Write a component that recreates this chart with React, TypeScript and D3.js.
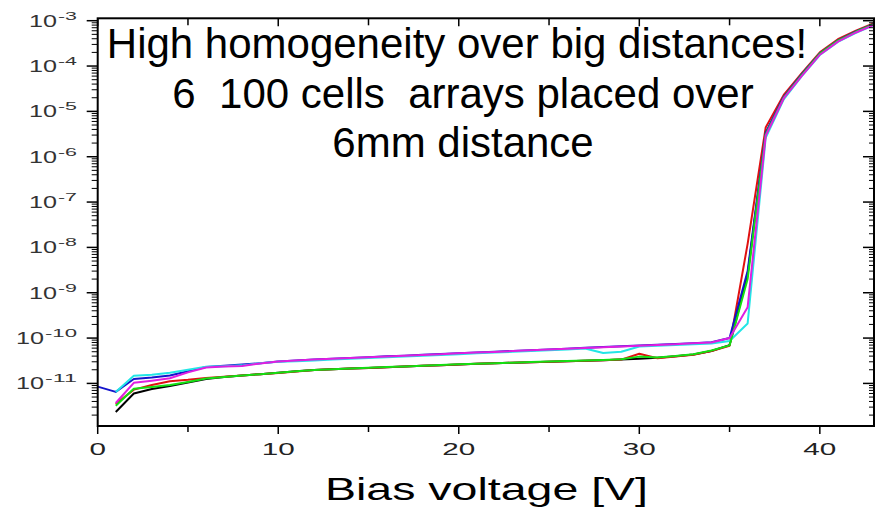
import React from "react";
import * as d3 from "d3";

const W = 880;
const H = 509;

const voltages = [0,1,2,3,4,5,6,7,8,9,10,11,12,13,14,15,16,17,18,19,20,21,22,23,24,25,26,27,28,29,30,31,32,33,34,35,36,37,38,39,40,41,42,43];

const blackSeries = [null,2.35e-12,6.0e-12,7.5e-12,8.8e-12,1.05e-11,1.25e-11,1.38e-11,1.5e-11,1.6e-11,1.72e-11,1.85e-11,1.98e-11,2.05e-11,2.12e-11,2.2e-11,2.28e-11,2.36e-11,2.45e-11,2.53e-11,2.62e-11,2.7e-11,2.78e-11,2.85e-11,2.93e-11,3.0e-11,3.08e-11,3.17e-11,3.26e-11,3.36e-11,3.5e-11,3.7e-11,3.95e-11,4.35e-11,5.2e-11,7.0e-11,2.5e-9,3.2e-6,2.0e-5,6.5e-5,1.88e-4,3.65e-4,5.7e-4,8.4e-4];
const redSeries = [null,3.5e-12,7.3e-12,9.2e-12,1.12e-11,1.2e-11,1.32e-11,1.4e-11,1.5e-11,1.6e-11,1.7e-11,1.84e-11,1.97e-11,2.06e-11,2.13e-11,2.2e-11,2.28e-11,2.37e-11,2.44e-11,2.52e-11,2.6e-11,2.72e-11,2.8e-11,2.86e-11,2.92e-11,3.0e-11,3.1e-11,3.15e-11,3.25e-11,3.35e-11,4.5e-11,3.6e-11,3.9e-11,4.3e-11,5.2e-11,6.8e-11,1.2e-8,4.4e-6,2.3e-5,7.0e-5,2.0e-4,3.9e-4,6.0e-4,8.8e-4];
const cyanSeries = [null,6.5e-12,1.48e-11,1.55e-11,1.72e-11,2.0e-11,2.32e-11,2.4e-11,2.5e-11,2.8e-11,3.0e-11,3.1e-11,3.22e-11,3.35e-11,3.48e-11,3.62e-11,3.78e-11,3.92e-11,4.08e-11,4.25e-11,4.42e-11,4.6e-11,4.78e-11,4.98e-11,5.18e-11,5.4e-11,5.6e-11,5.9e-11,4.7e-11,5.0e-11,6.5e-11,6.8e-11,7.0e-11,7.3e-11,7.6e-11,8.6e-11,2.1e-10,2.6e-6,1.85e-5,6.0e-5,1.75e-4,3.4e-4,5.4e-4,8.0e-4];
const blueSeries = [8.5e-12,6.5e-12,1.25e-11,1.35e-11,1.5e-11,1.85e-11,2.3e-11,2.45e-11,2.6e-11,2.8e-11,3.05e-11,3.2e-11,3.35e-11,3.5e-11,3.64e-11,3.8e-11,3.95e-11,4.1e-11,4.27e-11,4.45e-11,4.62e-11,4.8e-11,5.0e-11,5.2e-11,5.4e-11,5.62e-11,5.85e-11,6.08e-11,6.32e-11,6.58e-11,6.83e-11,7.1e-11,7.4e-11,7.7e-11,8.05e-11,1.0e-10,3.0e-9,3.4e-6,2.1e-5,6.6e-5,1.9e-4,3.7e-4,5.8e-4,8.5e-4];
const greenSeries = [null,3.2e-12,7.6e-12,8.3e-12,9.2e-12,1.08e-11,1.28e-11,1.38e-11,1.5e-11,1.6e-11,1.72e-11,1.85e-11,1.98e-11,2.06e-11,2.13e-11,2.21e-11,2.29e-11,2.37e-11,2.45e-11,2.54e-11,2.63e-11,2.71e-11,2.79e-11,2.87e-11,2.95e-11,3.03e-11,3.11e-11,3.2e-11,3.3e-11,3.4e-11,3.9e-11,3.75e-11,4.0e-11,4.4e-11,5.3e-11,6.9e-11,2.0e-9,3.1e-6,2.0e-5,6.4e-5,1.88e-4,3.65e-4,5.7e-4,8.4e-4];
const magentaSeries = [null,3.7e-12,1.03e-11,1.15e-11,1.3e-11,1.75e-11,2.25e-11,2.35e-11,2.42e-11,2.75e-11,3.05e-11,3.22e-11,3.35e-11,3.5e-11,3.62e-11,3.78e-11,3.92e-11,4.08e-11,4.25e-11,4.42e-11,4.6e-11,4.78e-11,4.96e-11,5.16e-11,5.36e-11,5.58e-11,5.8e-11,6.05e-11,6.3e-11,6.55e-11,6.8e-11,7.05e-11,7.35e-11,7.65e-11,8.0e-11,1.0e-10,4.8e-10,2.9e-6,1.95e-5,6.1e-5,1.78e-4,3.45e-4,5.5e-4,8.1e-4];

const seriesList = [
  { name: "black", color: "#000000", values: blackSeries },
  { name: "red", color: "#e01010", values: redSeries },
  { name: "blue", color: "#1414cc", values: blueSeries },
  { name: "cyan", color: "#22e6e6", values: cyanSeries },
  { name: "green", color: "#12e012", values: greenSeries },
  { name: "magenta", color: "#e01ee0", values: magentaSeries },
];

const xMajorTicks = [0, 10, 20, 30, 40];
const xMinorTicks = [5, 15, 25, 35];
const yDecades = [-11, -10, -9, -8, -7, -6, -5, -4, -3];
const titleLines = ["High homogeneity over big distances!", "6  100 cells  arrays placed over", "6mm distance"];
const xLabel = "Bias voltage [V]";

export default function App() {
  const left = 97.7, right = 874, top = 18.3, bottom = 426;
  const x = d3.scaleLinear().domain([0, 43]).range([left, right]);
  const y = d3.scaleLog().domain([1.15e-12, 1.13e-3]).range([bottom, top]);
  const font = "'Liberation Sans', Arial, sans-serif";

  const minorY: number[] = [];
  for (let e = -12; e <= -3; e++) {
    for (let m = 2; m <= 9; m++) {
      const v = m * Math.pow(10, e);
      if (v > 1.15e-12 && v < 1.13e-3) minorY.push(v);
    }
  }

  const line = d3
    .line<number | null>()
    .defined((d) => d != null)
    .x((_, i) => x(voltages[i]))
    .y((d) => y(d as number));

  return (
    <svg width={W} height={H} style={{ position: "absolute", left: 0, top: 0, background: "#fff" }}>
      <rect x={0} y={0} width={W} height={H} fill="#fff" />
      {seriesList.map((s) => (
        <path key={s.name} d={line(s.values) || ""} fill="none" stroke={s.color} strokeWidth={2} strokeLinejoin="round" />
      ))}
      <rect x={left} y={top} width={right - left} height={bottom - top} fill="none" stroke="#000" strokeWidth={2} />
      {yDecades.map((e) => {
        const yy = y(Math.pow(10, e));
        return (
          <g key={"yd" + e}>
            <line x1={left - 11} x2={left} y1={yy} y2={yy} stroke="#000" strokeWidth={1.5} />
            <line x1={right - 11} x2={right} y1={yy} y2={yy} stroke="#000" strokeWidth={1.5} />
          </g>
        );
      })}
      {minorY.map((v, i) => {
        const yy = y(v);
        return (
          <g key={"ym" + i}>
            <line x1={left - 6} x2={left} y1={yy} y2={yy} stroke="#000" strokeWidth={1} />
            <line x1={right - 5} x2={right} y1={yy} y2={yy} stroke="#000" strokeWidth={1} />
          </g>
        );
      })}
      {xMajorTicks.map((t) => (
        <g key={"xM" + t}>
          <line x1={x(t)} x2={x(t)} y1={bottom} y2={bottom + 8} stroke="#000" strokeWidth={1.5} />
          <line x1={x(t)} x2={x(t)} y1={top} y2={top + 8} stroke="#000" strokeWidth={1.5} />
        </g>
      ))}
      {xMinorTicks.map((t) => (
        <g key={"xm" + t}>
          <line x1={x(t)} x2={x(t)} y1={bottom} y2={bottom + 6} stroke="#000" strokeWidth={1.5} />
          <line x1={x(t)} x2={x(t)} y1={top} y2={top + 7} stroke="#000" strokeWidth={1.5} />
        </g>
      ))}
      {xMajorTicks.map((t) => {
        const s = String(t);
        return (
          <text key={"xl" + t} x={x(t)} y={455} textAnchor="middle" fontFamily={font} fontSize={17} fill="#222"
            textLength={s.length * 16.5} lengthAdjust="spacingAndGlyphs">
            {s}
          </text>
        );
      })}
      {yDecades.map((e) => {
        const yy = y(Math.pow(10, e));
        const sup = String(e);
        const supW = sup.length > 2 ? 32 : 19;
        const rightEdge = 77;
        return (
          <g key={"yl" + e}>
            <text x={rightEdge} y={yy - 1} textAnchor="end" fontFamily={font} fontSize={11} fill="#333"
              textLength={supW} lengthAdjust="spacingAndGlyphs">
              {sup}
            </text>
            <text x={rightEdge - supW - 1} y={yy + 6} textAnchor="end" fontFamily={font} fontSize={17} fill="#333"
              textLength={28} lengthAdjust="spacingAndGlyphs">
              10
            </text>
          </g>
        );
      })}
      <text x={457} y={58} textAnchor="middle" fontFamily={font} fontSize={42} fill="#000" style={{ whiteSpace: "pre" }}>
        {titleLines[0]}
      </text>
      <text x={463} y={108} textAnchor="middle" fontFamily={font} fontSize={42} fill="#000" style={{ whiteSpace: "pre" }}>
        {titleLines[1]}
      </text>
      <text x={463} y={157} textAnchor="middle" fontFamily={font} fontSize={42} fill="#000" style={{ whiteSpace: "pre" }}>
        {titleLines[2]}
      </text>
      <text x={486.5} y={500} textAnchor="middle" fontFamily={font} fontSize={32} fill="#000"
        textLength={323} lengthAdjust="spacingAndGlyphs">
        {xLabel}
      </text>
    </svg>
  );
}
